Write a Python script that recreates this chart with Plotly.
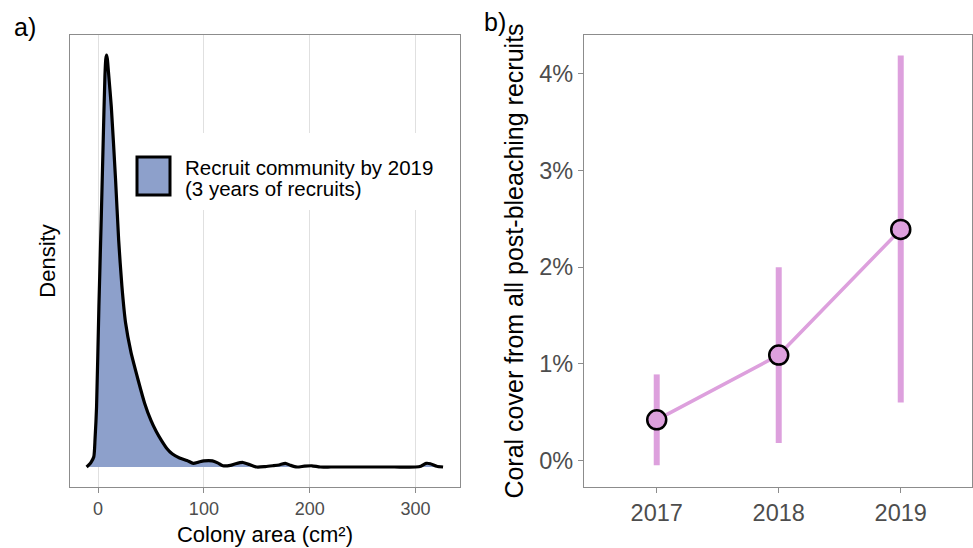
import plotly.graph_objects as go

# ---------------- data ----------------
# panel a: density of colony area (relative density, peak = 1)
area_cm2 = [-10.8, -8.7, -6.5, -4.0, -2.8, -1.4, 0.8, 3.0, 4.9, 6.5, 7.3, 8.0, 8.8, 9.8,
            12.5, 16.5, 19.5, 22.5, 26.0, 31.0, 38.0, 44.0, 50.0, 55.0, 60.0, 65.0, 70.0,
            77.0, 84.0, 90.0, 95.0, 100.0, 108.0, 113.0, 118.0, 125.0, 130.0, 137.0, 143.0,
            150.0, 158.0, 165.0, 171.0, 177.0, 182.0, 188.0, 195.0, 202.0, 210.0, 220.0,
            240.0, 260.0, 280.0, 300.0, 305.0, 310.0, 314.0, 320.0, 326.0]
density = [0.0, 0.005, 0.012, 0.025, 0.07, 0.146, 0.389, 0.60, 0.794, 0.95, 0.99, 1.0, 0.99, 0.96,
           0.875, 0.70, 0.55, 0.44, 0.35, 0.28, 0.21, 0.155, 0.113, 0.086, 0.064, 0.045, 0.032,
           0.022, 0.016, 0.009, 0.012, 0.015, 0.015, 0.010, 0.003, 0.004, 0.008, 0.011, 0.006,
           0.0, 0.001, 0.003, 0.005, 0.009, 0.004, 0.0, 0.002, 0.003, 0.0, 0.0,
           0.0, 0.0, 0.0, 0.0, 0.002, 0.009, 0.008, 0.002, 0.0]
density_label = ["Recruit community by 2019", "(3 years of recruits)"]
area_ticks = [0, 100, 200, 300]

# panel b: coral cover (%) with interval
years = [2017, 2018, 2019]
cover_pct = [0.42, 1.09, 2.39]
cover_low = [-0.05, 0.18, 0.60]
cover_high = [0.89, 2.00, 4.19]
cover_ticks = [0, 1, 2, 3, 4]
cover_tick_text = ["0%", "1%", "2%", "3%", "4%"]

# ---------------- style ----------------
FONT = "Liberation Sans"
FILL = "#8DA0CB"
PINK = "#DDA0DD"
BORDER = "#8C8C8C"
GRID = "#E0E0E0"
TICKTXT = "#4D4D4D"
W, H = 973, 548

def px_x(p):
    return p / W

def px_y(p):
    return (H - p) / H

fig = go.Figure()

# density curve
fig.add_trace(go.Scatter(
    x=area_cm2, y=density, mode="lines", fill="tozeroy",
    fillcolor=FILL, line=dict(color="black", width=3.2, shape="spline", smoothing=0.6),
    xaxis="x", yaxis="y", showlegend=False, hoverinfo="skip"))

# coral cover line with error bars
err_plus = [h - c for h, c in zip(cover_high, cover_pct)]
err_minus = [c - l for c, l in zip(cover_pct, cover_low)]
fig.add_trace(go.Scatter(
    x=years, y=cover_pct, mode="lines",
    line=dict(color=PINK, width=3.5),
    error_y=dict(type="data", symmetric=False, array=err_plus, arrayminus=err_minus,
                 color=PINK, thickness=6, width=0),
    xaxis="x2", yaxis="y2", showlegend=False))
fig.add_trace(go.Scatter(
    x=years, y=cover_pct, mode="markers",
    marker=dict(color=PINK, size=19, line=dict(color="black", width=2.5)),
    xaxis="x2", yaxis="y2", showlegend=False))

# manual legend for panel a
fig.add_shape(type="rect", xref="paper", yref="paper",
              x0=px_x(130), x1=px_x(440), y0=px_y(210), y1=px_y(133),
              fillcolor="white", line=dict(width=0), layer="above")
fig.add_shape(type="rect", xref="paper", yref="paper",
              x0=px_x(137), x1=px_x(170), y0=px_y(195), y1=px_y(157),
              fillcolor=FILL, line=dict(color="black", width=3), layer="above")
for txt, yc in zip(density_label, [167, 188]):
    fig.add_annotation(text=txt, xref="paper", yref="paper",
                       x=px_x(183), y=px_y(yc),
                       xanchor="left", yanchor="middle", showarrow=False,
                       font=dict(family=FONT, size=20.5, color="black"))

# panel labels
fig.add_annotation(text="a)", xref="paper", yref="paper", x=px_x(25), y=px_y(27),
                   xanchor="center", yanchor="middle", showarrow=False,
                   font=dict(family=FONT, size=25, color="black"))
fig.add_annotation(text="b)", xref="paper", yref="paper", x=px_x(495), y=px_y(22),
                   xanchor="center", yanchor="middle", showarrow=False,
                   font=dict(family=FONT, size=25, color="black"))

axis_common = dict(showline=True, mirror=True, linecolor=BORDER, linewidth=1.3,
                   zeroline=False, ticks="outside", tickcolor=BORDER, tickwidth=1.1,
                   ticklen=5)

fig.update_layout(
    width=W, height=H, margin=dict(l=0, r=0, t=0, b=0),
    paper_bgcolor="white", plot_bgcolor="white",
    font=dict(family=FONT, color="black"),
    xaxis=dict(domain=[px_x(70), px_x(460)], range=[-26.5, 342], tickvals=area_ticks,
               showgrid=True, gridcolor=GRID, gridwidth=1.3,
               tickfont=dict(family=FONT, size=18, color=TICKTXT),
               title=dict(text="Colony area (cm²)", font=dict(family=FONT, size=22, color="black"),
                          standoff=8),
               anchor="y", **axis_common),
    yaxis=dict(domain=[px_y(487), px_y(35)], range=[-0.0485, 1.0485],
               showticklabels=False, showgrid=False, showline=True, mirror=True,
               linecolor=BORDER, linewidth=1.3, zeroline=False, ticks="",
               title=dict(text="Density", font=dict(family=FONT, size=22, color="black"),
                          standoff=7),
               anchor="x"),
    xaxis2=dict(domain=[px_x(584), px_x(972)], range=[2016.404, 2019.584], tickvals=years,
                showgrid=False,
                tickfont=dict(family=FONT, size=23.5, color=TICKTXT),
                anchor="y2", **axis_common),
    yaxis2=dict(domain=[px_y(487), px_y(35)], range=[-0.275, 4.402],
                tickvals=cover_ticks, ticktext=cover_tick_text, showgrid=False,
                tickfont=dict(family=FONT, size=23.5, color=TICKTXT),
                title=dict(text="Coral cover from all post-bleaching recruits",
                           font=dict(family=FONT, size=25, color="black"), standoff=8),
                anchor="x2", **axis_common),
)

fig.write_html("out.html")
